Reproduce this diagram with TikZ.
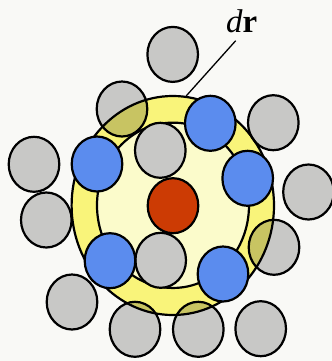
\documentclass[tikz,border=0pt]{standalone}
\usepackage{fontspec}
\setmainfont{Liberation Serif}
\usetikzlibrary{shapes.geometric}
\definecolor{bggray}{HTML}{F9F9F6}
\definecolor{ballgray}{HTML}{C8C8C6}
\definecolor{ballblue}{HTML}{5B8CEE}
\definecolor{ballred}{HTML}{CC3B04}
\definecolor{ringyellow}{HTML}{FFFA72}
\definecolor{innerpale}{HTML}{FBFBCB}
\tikzset{
  ball/.style={ellipse, minimum width=50.6bp, minimum height=55bp, inner sep=0pt, draw=black, line width=2.2bp},
  grayball/.style={ball, fill=ballgray},
  blueball/.style={ball, fill=ballblue},
  redball/.style={ball, fill=ballred},
  ringshape/.style={ellipse, inner sep=0pt, draw=black, line width=2.2bp},
}
\begin{document}
\begin{tikzpicture}[x=1bp,y=-1bp]
\fill[bggray] (0,0) rectangle (332,361);
\useasboundingbox (0,0) rectangle (332,361);
% outer grey balls
\node[grayball] (g1) at (172.7,54.4) {};
\node[grayball] (g2) at (122,109) {};
\node[grayball] (g3) at (273.3,122.7) {};
\node[grayball] (g4) at (34,164.3) {};
\node[grayball] (g5) at (308.5,192) {};
\node[grayball] (g6) at (46.3,220) {};
\node[grayball] (g7) at (274,247.3) {};
\node[grayball] (g8) at (72,302) {};
\node[grayball] (g9) at (135,329.3) {};
\node[grayball] (g10) at (198.3,329.3) {};
\node[grayball] (g11) at (260.7,328.7) {};
% shell
\begin{scope}[blend mode=multiply]
\node[ringshape, minimum width=202.4bp, minimum height=219bp, fill=ringyellow, fill opacity=0.9] (ring) at (172.8,205.5) {};
\end{scope}
\node[ringshape, minimum width=152bp, minimum height=165.3bp, fill=innerpale] (inner) at (173,205.3) {};
% inner grey balls
\node[grayball] (g12) at (160.3,150.3) {};
\node[grayball] (g13) at (160.7,260.3) {};
% blue balls
\node[blueball] (b1) at (97,164) {};
\node[blueball] (b2) at (210.3,123.3) {};
\node[blueball] (b3) at (247.7,178.3) {};
\node[blueball] (b4) at (110,260.7) {};
\node[blueball] (b5) at (223,274) {};
% central ball
\node[redball] (r) at (173,205.7) {};
% label
\node[anchor=base west, inner sep=0pt, font=\fontsize{33}{34}\selectfont] (lbl) at (226,32.4) {\textit{d}\textbf{r}};
\coordinate (lineend) at (235.7,40.7);
\draw[line width=1.3bp] (ring.83.6) -- (lineend);
\end{tikzpicture}
\end{document}
